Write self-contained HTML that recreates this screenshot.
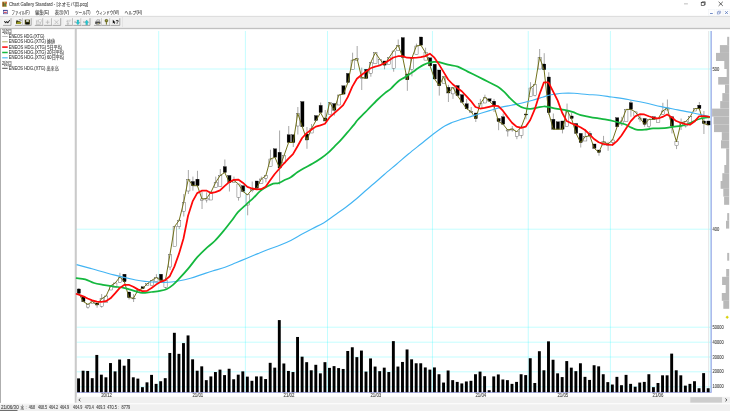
<!DOCTYPE html>
<html lang="ja"><head><meta charset="utf-8"><title>Chart Gallery Standard - [ネオモバ用.pcg]</title>
<style>
html,body{margin:0;padding:0;background:#fff;overflow:hidden}
body{width:730px;height:411px;position:relative;font-family:"Liberation Sans","Noto Sans CJK JP",sans-serif}
svg{position:absolute;left:0;top:0;display:block}
text{font-family:"Liberation Sans","Noto Sans CJK JP",sans-serif}
.g{stroke:#00f6ff;stroke-width:.24;fill:none}
.w{stroke:#222;stroke-width:.4;fill:none}
.cw{fill:#fff;stroke:#333;stroke-width:.36}
.cb{fill:#000;stroke:#000;stroke-width:.3}
.v{fill:#000}
.h{fill:#b9b9b9}
.t{fill:#484848;stroke:#484848;stroke-width:.28}
.tt{fill:#4a4a4a;stroke:#4a4a4a;stroke-width:.2}
.ta{fill:#484848;stroke:#484848;stroke-width:.25}
</style></head><body>
<svg width="730" height="411" viewBox="0 0 730 411">
<rect width="730" height="411" fill="#fff"/>
<rect x="0" y="16.3" width="730" height="11.9" fill="#f0f0f0"/>
<rect x="0" y="15.9" width="730" height=".6" fill="#c8c8c8"/>
<rect x="0" y="27.9" width="730" height=".9" fill="#a8a8a8"/>
<rect x="0" y="28.8" width="730" height=".5" fill="#dcdcdc"/>
<rect x="0" y="28.8" width=".8" height="374.5" fill="#9a9a9a"/>
<rect x="74.3" y="28.8" width=".9" height="374" fill="#ececec"/>
<rect x="75.2" y="28.8" width="1.45" height="374" fill="#bdbdbd"/>
<rect x="0" y="404.2" width="730" height="6.8" fill="#f0f0f0"/>
<rect x="0" y="402.9" width="730" height="1.3" fill="#fbfbfb"/>
<rect x="0" y="409.9" width="17.5" height="1.1" fill="#6e6e6e"/>
<rect x="76.6" y="396.8" width="653.4" height="6.2" fill="#f0f0f0"/>
<rect x="690.3" y="397.2" width="31.7" height="5.4" fill="#cdcdcd"/>
<path d="M80.4 398.5 L78.8 399.9 L80.4 401.3" fill="none" stroke="#3c3c3c" stroke-width=".85"/>
<path d="M725.4 398.5 L727 399.9 L725.4 401.3" fill="none" stroke="#3c3c3c" stroke-width=".85"/>
<path class="g" d="M158.69 31V392"/>
<path class="g" d="M245.38 31V392"/>
<path class="g" d="M327.51 31V392"/>
<path class="g" d="M432.44 31V392"/>
<path class="g" d="M528.26 31V392"/>
<path class="g" d="M610.38 31V392"/>
<path class="g" d="M76.8 69H711"/>
<path class="g" d="M76.8 229.2H711"/>
<path class="g" d="M76.8 327.2H711"/>
<path class="g" d="M76.8 342.2H711"/>
<path class="g" d="M76.8 357H711"/>
<path class="g" d="M76.8 371.8H711"/>
<path class="g" d="M76.8 386.8H711"/>
<rect x="708.2" y="31" width=".7" height="361.5" fill="#e0e0e0"/>
<path class="g" d="M710.2 31V392"/>
<rect x="710.5" y="31" width="1.4" height="361.5" fill="#a6b3ea"/>
<rect x="76.8" y="391.9" width="634.6" height=".7" fill="#7f86e0"/>
<rect class="h" x="727.2" y="36.8" width="2" height="8.3"/>
<rect class="h" x="719.9" y="45.1" width="9.3" height="7.8"/>
<rect class="h" x="716" y="52.9" width="13.2" height="8.1"/>
<rect class="h" x="724.3" y="61" width="4.9" height="8"/>
<rect class="h" x="726.7" y="69" width="2.5" height="8"/>
<rect class="h" x="718.2" y="77" width="11" height="7.6"/>
<rect class="h" x="725" y="84.6" width="4.2" height="8.5"/>
<rect class="h" x="722.3" y="93.1" width="6.9" height="8"/>
<rect class="h" x="720.2" y="101.1" width="9" height="7.5"/>
<rect class="h" x="712.1" y="108.6" width="17.1" height="8"/>
<rect class="h" x="713.6" y="116.6" width="15.6" height="7.7"/>
<rect class="h" x="714" y="124.3" width="15.2" height="7.8"/>
<rect class="h" x="721.8" y="132.1" width="7.4" height="8.2"/>
<rect class="h" x="721" y="140.3" width="8.2" height="8.1"/>
<rect class="h" x="726.2" y="148.4" width="3" height="16.6"/>
<rect class="h" x="724.3" y="165" width="4.9" height="8.2"/>
<rect class="h" x="722.3" y="173.2" width="6.9" height="7.8"/>
<rect class="h" x="720.6" y="181" width="8.6" height="7.8"/>
<rect class="h" x="723.3" y="188.8" width="5.9" height="7.8"/>
<rect class="h" x="724.1" y="196.6" width="5.1" height="8.2"/>
<rect class="h" x="727.2" y="213.1" width="2" height="7.7"/>
<rect class="h" x="726" y="220.8" width="3.2" height="7.8"/>
<rect class="h" x="727.2" y="252.9" width="2" height="7.8"/>
<rect class="h" x="726.2" y="269" width="3" height="7.8"/>
<rect class="h" x="722.1" y="276.8" width="7.1" height="8.2"/>
<rect class="h" x="725.7" y="285" width="3.5" height="8"/>
<rect class="h" x="721.8" y="293" width="7.4" height="7.8"/>
<rect class="h" x="723.3" y="300.8" width="5.9" height="8"/>
<path d="M727.2 315.7 L728.7 317.2 L727.2 318.7 L725.7 317.2 Z" fill="#dcd400" stroke="#b8b000" stroke-width=".2"/>
<rect class="v" x="77.1" y="378.39" width="2.9" height="13.81"/>
<rect class="v" x="81.66" y="370.72" width="2.9" height="21.48"/>
<rect class="v" x="86.22" y="370.94" width="2.9" height="21.26"/>
<rect class="v" x="90.79" y="378.17" width="2.9" height="14.03"/>
<rect class="v" x="95.35" y="354.94" width="2.9" height="37.26"/>
<rect class="v" x="99.91" y="374.67" width="2.9" height="17.53"/>
<rect class="v" x="104.47" y="377.3" width="2.9" height="14.9"/>
<rect class="v" x="109.04" y="363.05" width="2.9" height="29.15"/>
<rect class="v" x="113.6" y="371.38" width="2.9" height="20.82"/>
<rect class="v" x="118.16" y="359.54" width="2.9" height="32.66"/>
<rect class="v" x="122.72" y="365.68" width="2.9" height="26.52"/>
<rect class="v" x="127.29" y="359.1" width="2.9" height="33.1"/>
<rect class="v" x="131.85" y="377.3" width="2.9" height="14.9"/>
<rect class="v" x="136.41" y="378.61" width="2.9" height="13.59"/>
<rect class="v" x="140.98" y="387.16" width="2.9" height="5.04"/>
<rect class="v" x="145.54" y="382.34" width="2.9" height="9.86"/>
<rect class="v" x="150.1" y="374.88" width="2.9" height="17.32"/>
<rect class="v" x="154.66" y="383.87" width="2.9" height="8.33"/>
<rect class="v" x="159.23" y="381.24" width="2.9" height="10.96"/>
<rect class="v" x="163.79" y="378.17" width="2.9" height="14.03"/>
<rect class="v" x="168.35" y="352.97" width="2.9" height="39.23"/>
<rect class="v" x="172.91" y="332.8" width="2.9" height="59.4"/>
<rect class="v" x="177.48" y="353.84" width="2.9" height="38.36"/>
<rect class="v" x="182.04" y="343.1" width="2.9" height="49.1"/>
<rect class="v" x="186.6" y="335.43" width="2.9" height="56.77"/>
<rect class="v" x="191.16" y="359.32" width="2.9" height="32.88"/>
<rect class="v" x="195.73" y="370.72" width="2.9" height="21.48"/>
<rect class="v" x="200.29" y="366.34" width="2.9" height="25.86"/>
<rect class="v" x="204.85" y="380.15" width="2.9" height="12.05"/>
<rect class="v" x="209.41" y="376.42" width="2.9" height="15.78"/>
<rect class="v" x="213.98" y="372.04" width="2.9" height="20.16"/>
<rect class="v" x="218.54" y="369.62" width="2.9" height="22.58"/>
<rect class="v" x="223.1" y="375.1" width="2.9" height="17.1"/>
<rect class="v" x="227.66" y="368.75" width="2.9" height="23.45"/>
<rect class="v" x="232.23" y="379.27" width="2.9" height="12.93"/>
<rect class="v" x="236.79" y="374.67" width="2.9" height="17.53"/>
<rect class="v" x="241.35" y="371.38" width="2.9" height="20.82"/>
<rect class="v" x="245.91" y="376.64" width="2.9" height="15.56"/>
<rect class="v" x="250.48" y="380.8" width="2.9" height="11.4"/>
<rect class="v" x="255.04" y="376.42" width="2.9" height="15.78"/>
<rect class="v" x="259.6" y="376.42" width="2.9" height="15.78"/>
<rect class="v" x="264.16" y="379.05" width="2.9" height="13.15"/>
<rect class="v" x="268.73" y="362.83" width="2.9" height="29.37"/>
<rect class="v" x="273.29" y="367.65" width="2.9" height="24.55"/>
<rect class="v" x="277.85" y="320.09" width="2.9" height="72.11"/>
<rect class="v" x="282.41" y="363.49" width="2.9" height="28.71"/>
<rect class="v" x="286.98" y="370.94" width="2.9" height="21.26"/>
<rect class="v" x="291.54" y="372.04" width="2.9" height="20.16"/>
<rect class="v" x="296.1" y="336.97" width="2.9" height="55.23"/>
<rect class="v" x="300.66" y="356.69" width="2.9" height="35.51"/>
<rect class="v" x="305.23" y="362.17" width="2.9" height="30.03"/>
<rect class="v" x="309.79" y="370.28" width="2.9" height="21.92"/>
<rect class="v" x="314.35" y="364.8" width="2.9" height="27.4"/>
<rect class="v" x="318.91" y="373.35" width="2.9" height="18.85"/>
<rect class="v" x="323.48" y="362.17" width="2.9" height="30.03"/>
<rect class="v" x="328.04" y="367.87" width="2.9" height="24.33"/>
<rect class="v" x="332.6" y="366.12" width="2.9" height="26.08"/>
<rect class="v" x="337.16" y="368.09" width="2.9" height="24.11"/>
<rect class="v" x="341.73" y="368.97" width="2.9" height="23.23"/>
<rect class="v" x="346.29" y="350.99" width="2.9" height="41.21"/>
<rect class="v" x="350.85" y="347.27" width="2.9" height="44.93"/>
<rect class="v" x="355.41" y="357.13" width="2.9" height="35.07"/>
<rect class="v" x="359.98" y="350.56" width="2.9" height="41.64"/>
<rect class="v" x="364.54" y="371.6" width="2.9" height="20.6"/>
<rect class="v" x="369.1" y="358.45" width="2.9" height="33.75"/>
<rect class="v" x="373.66" y="366.56" width="2.9" height="25.64"/>
<rect class="v" x="378.23" y="371.16" width="2.9" height="21.04"/>
<rect class="v" x="382.79" y="367.65" width="2.9" height="24.55"/>
<rect class="v" x="387.35" y="372.04" width="2.9" height="20.16"/>
<rect class="v" x="391.91" y="341.13" width="2.9" height="51.07"/>
<rect class="v" x="396.48" y="366.56" width="2.9" height="25.64"/>
<rect class="v" x="401.04" y="361.95" width="2.9" height="30.25"/>
<rect class="v" x="405.6" y="349.46" width="2.9" height="42.74"/>
<rect class="v" x="410.16" y="359.32" width="2.9" height="32.88"/>
<rect class="v" x="414.73" y="363.27" width="2.9" height="28.93"/>
<rect class="v" x="419.29" y="363.27" width="2.9" height="28.93"/>
<rect class="v" x="423.85" y="367.43" width="2.9" height="24.77"/>
<rect class="v" x="428.41" y="369.62" width="2.9" height="22.58"/>
<rect class="v" x="432.98" y="367.43" width="2.9" height="24.77"/>
<rect class="v" x="437.54" y="374.23" width="2.9" height="17.97"/>
<rect class="v" x="442.1" y="382.56" width="2.9" height="9.64"/>
<rect class="v" x="446.66" y="370.5" width="2.9" height="21.7"/>
<rect class="v" x="451.23" y="380.15" width="2.9" height="12.05"/>
<rect class="v" x="455.79" y="381.9" width="2.9" height="10.3"/>
<rect class="v" x="460.35" y="383.43" width="2.9" height="8.77"/>
<rect class="v" x="464.91" y="381.46" width="2.9" height="10.74"/>
<rect class="v" x="469.48" y="380.8" width="2.9" height="11.4"/>
<rect class="v" x="474.04" y="374.23" width="2.9" height="17.97"/>
<rect class="v" x="478.6" y="371.6" width="2.9" height="20.6"/>
<rect class="v" x="483.16" y="376.2" width="2.9" height="16"/>
<rect class="v" x="487.73" y="390.23" width="2.9" height="1.97"/>
<rect class="v" x="492.29" y="376.42" width="2.9" height="15.78"/>
<rect class="v" x="496.85" y="374.45" width="2.9" height="17.75"/>
<rect class="v" x="501.41" y="379.49" width="2.9" height="12.71"/>
<rect class="v" x="505.98" y="380.15" width="2.9" height="12.05"/>
<rect class="v" x="510.54" y="383.87" width="2.9" height="8.33"/>
<rect class="v" x="515.1" y="381.9" width="2.9" height="10.3"/>
<rect class="v" x="519.66" y="374.23" width="2.9" height="17.97"/>
<rect class="v" x="524.22" y="375.1" width="2.9" height="17.1"/>
<rect class="v" x="528.79" y="358.23" width="2.9" height="33.97"/>
<rect class="v" x="533.35" y="382.99" width="2.9" height="9.21"/>
<rect class="v" x="537.91" y="351.21" width="2.9" height="40.99"/>
<rect class="v" x="542.47" y="370.28" width="2.9" height="21.92"/>
<rect class="v" x="547.04" y="341.35" width="2.9" height="50.85"/>
<rect class="v" x="551.6" y="359.76" width="2.9" height="32.44"/>
<rect class="v" x="556.16" y="373.35" width="2.9" height="18.85"/>
<rect class="v" x="560.72" y="377.08" width="2.9" height="15.12"/>
<rect class="v" x="565.29" y="361.08" width="2.9" height="31.12"/>
<rect class="v" x="569.85" y="367.65" width="2.9" height="24.55"/>
<rect class="v" x="574.41" y="371.16" width="2.9" height="21.04"/>
<rect class="v" x="578.97" y="363.27" width="2.9" height="28.93"/>
<rect class="v" x="583.54" y="376.86" width="2.9" height="15.34"/>
<rect class="v" x="588.1" y="379.93" width="2.9" height="12.27"/>
<rect class="v" x="592.66" y="365.24" width="2.9" height="26.96"/>
<rect class="v" x="597.22" y="366.34" width="2.9" height="25.86"/>
<rect class="v" x="601.79" y="374.23" width="2.9" height="17.97"/>
<rect class="v" x="606.35" y="382.12" width="2.9" height="10.08"/>
<rect class="v" x="610.91" y="384.53" width="2.9" height="7.67"/>
<rect class="v" x="615.47" y="376.86" width="2.9" height="15.34"/>
<rect class="v" x="620.04" y="385.19" width="2.9" height="7.01"/>
<rect class="v" x="624.6" y="374.88" width="2.9" height="17.32"/>
<rect class="v" x="629.16" y="383.87" width="2.9" height="8.33"/>
<rect class="v" x="633.72" y="386.72" width="2.9" height="5.48"/>
<rect class="v" x="638.29" y="382.56" width="2.9" height="9.64"/>
<rect class="v" x="642.85" y="381.9" width="2.9" height="10.3"/>
<rect class="v" x="647.41" y="374.23" width="2.9" height="17.97"/>
<rect class="v" x="651.97" y="387.16" width="2.9" height="5.04"/>
<rect class="v" x="656.54" y="382.99" width="2.9" height="9.21"/>
<rect class="v" x="661.1" y="375.32" width="2.9" height="16.88"/>
<rect class="v" x="665.66" y="375.32" width="2.9" height="16.88"/>
<rect class="v" x="670.22" y="353.62" width="2.9" height="38.58"/>
<rect class="v" x="674.79" y="370.28" width="2.9" height="21.92"/>
<rect class="v" x="679.35" y="375.32" width="2.9" height="16.88"/>
<rect class="v" x="683.91" y="385.62" width="2.9" height="6.58"/>
<rect class="v" x="688.47" y="383.87" width="2.9" height="8.33"/>
<rect class="v" x="693.04" y="381.24" width="2.9" height="10.96"/>
<rect class="v" x="697.6" y="388.25" width="2.9" height="3.95"/>
<rect class="v" x="702.16" y="373.13" width="2.9" height="19.07"/>
<rect class="v" x="706.72" y="388.25" width="2.9" height="3.95"/>
<path class="w" d="M78.85 288V293.4"/>
<rect class="cb" x="77.25" y="289" width="3.2" height="4.4"/>
<rect class="cb" x="81.81" y="296.1" width="3.2" height="5.5"/>
<path class="w" d="M87.97 304.3V308.7"/>
<rect class="cw" x="86.38" y="304.3" width="3.2" height="2.8"/>
<rect class="cw" x="90.94" y="301.6" width="3.2" height="2"/>
<path class="w" d="M97.1 303V307.7"/>
<rect class="cb" x="95.5" y="303" width="3.2" height="2"/>
<path class="w" d="M101.66 294V307.7"/>
<rect class="cw" x="100.06" y="298.8" width="3.2" height="7.6"/>
<rect class="cw" x="104.62" y="296" width="3.2" height="6.3"/>
<rect class="cw" x="109.19" y="285.8" width="3.2" height="4.2"/>
<rect class="cw" x="113.75" y="283" width="3.2" height="4.2"/>
<path class="w" d="M119.91 272.8V282.4"/>
<rect class="cw" x="118.31" y="277" width="3.2" height="5.4"/>
<rect class="cb" x="122.88" y="274.2" width="3.2" height="7.5"/>
<path class="w" d="M129.04 292V299.5"/>
<rect class="cb" x="127.44" y="292" width="3.2" height="5.5"/>
<path class="w" d="M133.6 294V302"/>
<rect class="cw" x="132" y="298.2" width="3.2" height="0.7"/>
<rect class="cw" x="136.56" y="290" width="3.2" height="2.7"/>
<rect class="cb" x="141.13" y="286.8" width="3.2" height="1.8"/>
<rect class="cw" x="145.69" y="283.8" width="3.2" height="2"/>
<rect class="cw" x="150.25" y="280.3" width="3.2" height="5.5"/>
<path class="w" d="M156.41 274.2V281.7"/>
<rect class="cw" x="154.81" y="277.6" width="3.2" height="4.1"/>
<rect class="cb" x="159.38" y="274.2" width="3.2" height="6.1"/>
<path class="w" d="M165.54 278.3V288.6"/>
<rect class="cw" x="163.94" y="280.3" width="3.2" height="6.9"/>
<path class="w" d="M170.1 254.3V270"/>
<rect class="cw" x="168.5" y="254.3" width="3.2" height="12.7"/>
<rect class="cw" x="173.06" y="226.5" width="3.2" height="20"/>
<path class="w" d="M179.23 219V229"/>
<rect class="cw" x="177.63" y="220.5" width="3.2" height="6"/>
<path class="w" d="M183.79 194V216.5"/>
<rect class="cw" x="182.19" y="202.2" width="3.2" height="9.3"/>
<path class="w" d="M188.35 170V194"/>
<rect class="cw" x="186.75" y="179.2" width="3.2" height="11.8"/>
<path class="w" d="M192.91 176.6V190.7"/>
<rect class="cb" x="191.31" y="181.5" width="3.2" height="4.2"/>
<path class="w" d="M197.48 170.8V185.7"/>
<rect class="cb" x="195.88" y="179.2" width="3.2" height="6.5"/>
<path class="w" d="M202.04 191.4V209"/>
<rect class="cw" x="200.44" y="199" width="3.2" height="1.5"/>
<path class="w" d="M206.6 192.3V202.5"/>
<rect class="cw" x="205" y="198.5" width="3.2" height="1.5"/>
<rect class="cw" x="209.56" y="192" width="3.2" height="8"/>
<path class="w" d="M215.73 176.6V187.4"/>
<rect class="cw" x="214.13" y="182.5" width="3.2" height="4.9"/>
<path class="w" d="M220.29 169V186.5"/>
<rect class="cw" x="218.69" y="175.5" width="3.2" height="11"/>
<path class="w" d="M224.85 159.5V172.5"/>
<rect class="cb" x="223.25" y="166.7" width="3.2" height="5.8"/>
<path class="w" d="M229.41 175.5V191.5"/>
<rect class="cb" x="227.81" y="175.5" width="3.2" height="7"/>
<path class="w" d="M233.98 176.6V182.5"/>
<rect class="cw" x="232.38" y="180.5" width="3.2" height="2"/>
<path class="w" d="M238.54 184V200.6"/>
<rect class="cw" x="236.94" y="184" width="3.2" height="13.5"/>
<rect class="cb" x="241.5" y="185.7" width="3.2" height="5.8"/>
<path class="w" d="M247.66 194.8V215.3"/>
<rect class="cw" x="246.06" y="194.8" width="3.2" height="10.2"/>
<path class="w" d="M252.23 181.5V192.3"/>
<rect class="cw" x="250.63" y="189.5" width="3.2" height="1.2"/>
<rect class="cb" x="255.19" y="181" width="3.2" height="7.2"/>
<path class="w" d="M261.35 176.6V183.2"/>
<rect class="cw" x="259.75" y="179" width="3.2" height="4.2"/>
<path class="w" d="M265.91 175.8V182.4"/>
<rect class="cw" x="264.31" y="175.8" width="3.2" height="2.4"/>
<path class="w" d="M270.48 149.7V166.3"/>
<rect class="cw" x="268.88" y="159" width="3.2" height="7.3"/>
<rect class="cb" x="273.44" y="148.8" width="3.2" height="8.5"/>
<path class="w" d="M279.6 130.5V184.5"/>
<rect class="cb" x="278" y="152.3" width="3.2" height="15.7"/>
<rect class="cw" x="282.56" y="155.5" width="3.2" height="7.5"/>
<path class="w" d="M288.73 126V142.5"/>
<rect class="cb" x="287.12" y="134.8" width="3.2" height="7.7"/>
<path class="w" d="M293.29 134.8V147"/>
<rect class="cb" x="291.69" y="134.8" width="3.2" height="7.7"/>
<path class="w" d="M297.85 107V134.5"/>
<rect class="cw" x="296.25" y="113.5" width="3.2" height="12.5"/>
<rect class="cb" x="300.81" y="101.6" width="3.2" height="25.1"/>
<path class="w" d="M306.98 127V148.8"/>
<rect class="cb" x="305.38" y="134" width="3.2" height="6"/>
<path class="w" d="M311.54 124V133"/>
<rect class="cw" x="309.94" y="128.8" width="3.2" height="4.2"/>
<rect class="cb" x="314.5" y="115.6" width="3.2" height="4.9"/>
<path class="w" d="M320.66 102.5V112.6"/>
<rect class="cb" x="319.06" y="105.4" width="3.2" height="7.2"/>
<path class="w" d="M325.23 110V121"/>
<rect class="cb" x="323.62" y="118" width="3.2" height="3"/>
<rect class="cw" x="328.19" y="102.4" width="3.2" height="12.1"/>
<path class="w" d="M334.35 103.6V115.6"/>
<rect class="cb" x="332.75" y="103.6" width="3.2" height="6.6"/>
<rect class="cw" x="337.31" y="95" width="3.2" height="10"/>
<rect class="cb" x="341.88" y="85.8" width="3.2" height="8.3"/>
<rect class="cb" x="346.44" y="73.4" width="3.2" height="9.1"/>
<path class="w" d="M352.6 52.7V69.3"/>
<rect class="cw" x="351" y="60.1" width="3.2" height="9.2"/>
<path class="w" d="M357.16 46V60.5"/>
<rect class="cw" x="355.56" y="58.5" width="3.2" height="2"/>
<path class="w" d="M361.73 67.6V90"/>
<rect class="cw" x="360.12" y="77.5" width="3.2" height="0.9"/>
<rect class="cb" x="364.69" y="69.3" width="3.2" height="9.1"/>
<path class="w" d="M370.85 62.6V76.7"/>
<rect class="cw" x="369.25" y="62.6" width="3.2" height="10.8"/>
<rect class="cw" x="373.81" y="52.7" width="3.2" height="10.8"/>
<rect class="cw" x="378.38" y="59.3" width="3.2" height="5"/>
<path class="w" d="M384.54 61V69.3"/>
<rect class="cb" x="382.94" y="61" width="3.2" height="4.1"/>
<rect class="cw" x="387.5" y="57.7" width="3.2" height="6.6"/>
<path class="w" d="M393.66 51V71.7"/>
<rect class="cw" x="392.06" y="51" width="3.2" height="17.4"/>
<path class="w" d="M398.23 39.5V50.2"/>
<rect class="cw" x="396.62" y="45.2" width="3.2" height="5"/>
<rect class="cb" x="401.19" y="37.6" width="3.2" height="19.8"/>
<path class="w" d="M407.35 74V90.8"/>
<rect class="cb" x="405.75" y="74" width="3.2" height="5.8"/>
<path class="w" d="M411.91 58.3V76.4"/>
<rect class="cw" x="410.31" y="58.3" width="3.2" height="11.3"/>
<path class="w" d="M416.48 43.6V54.3"/>
<rect class="cw" x="414.88" y="46" width="3.2" height="8.3"/>
<rect class="cb" x="419.44" y="37" width="3.2" height="8.2"/>
<path class="w" d="M425.6 47.7V60.1"/>
<rect class="cw" x="424" y="52.7" width="3.2" height="7.4"/>
<rect class="cb" x="428.56" y="57.8" width="3.2" height="8.1"/>
<rect class="cb" x="433.12" y="64.2" width="3.2" height="14.8"/>
<path class="w" d="M439.29 70V95.6"/>
<rect class="cb" x="437.69" y="70" width="3.2" height="15.7"/>
<rect class="cw" x="442.25" y="76.6" width="3.2" height="6.6"/>
<path class="w" d="M448.41 84.8V102"/>
<rect class="cb" x="446.81" y="87.3" width="3.2" height="5.7"/>
<path class="w" d="M452.98 87.3V98.9"/>
<rect class="cw" x="451.38" y="87.3" width="3.2" height="6.6"/>
<rect class="cb" x="455.94" y="85.6" width="3.2" height="10"/>
<rect class="cb" x="460.5" y="94.7" width="3.2" height="7.5"/>
<path class="w" d="M466.66 98.9V108.8"/>
<rect class="cb" x="465.06" y="103.8" width="3.2" height="5"/>
<path class="w" d="M471.23 107V113"/>
<rect class="cw" x="469.62" y="111.5" width="3.2" height="0.8"/>
<path class="w" d="M475.79 113V122"/>
<rect class="cb" x="474.19" y="113" width="3.2" height="5.7"/>
<path class="w" d="M480.35 98.9V108.8"/>
<rect class="cw" x="478.75" y="103.8" width="3.2" height="5"/>
<path class="w" d="M484.91 94.7V103"/>
<rect class="cw" x="483.31" y="97.2" width="3.2" height="5.8"/>
<rect class="cb" x="487.88" y="98.8" width="3.2" height="2.4"/>
<path class="w" d="M494.04 98.9V112"/>
<rect class="cb" x="492.44" y="101.2" width="3.2" height="4.6"/>
<path class="w" d="M498.6 118.5V130.2"/>
<rect class="cb" x="497" y="118.5" width="3.2" height="3"/>
<path class="w" d="M503.16 113.5V124.2"/>
<rect class="cb" x="501.56" y="116.8" width="3.2" height="7.4"/>
<path class="w" d="M507.73 129.2V136.5"/>
<rect class="cw" x="506.12" y="130" width="3.2" height="1"/>
<path class="w" d="M512.29 126V131.7"/>
<rect class="cw" x="510.69" y="129" width="3.2" height="1"/>
<path class="w" d="M516.85 131.7V139.2"/>
<rect class="cw" x="515.25" y="131.7" width="3.2" height="4.8"/>
<path class="w" d="M521.41 125V138.4"/>
<rect class="cw" x="519.81" y="127" width="3.2" height="8.5"/>
<path class="w" d="M525.97 114V119.3"/>
<rect class="cb" x="524.37" y="114" width="3.2" height="1"/>
<path class="w" d="M530.54 82.2V96.3"/>
<rect class="cw" x="528.94" y="88" width="3.2" height="8.3"/>
<path class="w" d="M535.1 84.5V96.4"/>
<rect class="cw" x="533.5" y="84.5" width="3.2" height="11"/>
<path class="w" d="M539.66 49V69"/>
<rect class="cw" x="538.06" y="57.4" width="3.2" height="11.6"/>
<path class="w" d="M544.22 53.2V69.8"/>
<rect class="cb" x="542.62" y="64" width="3.2" height="5.8"/>
<path class="w" d="M548.79 72.3V115"/>
<rect class="cb" x="547.19" y="77" width="3.2" height="35.7"/>
<path class="w" d="M553.35 113.5V129.2"/>
<rect class="cb" x="551.75" y="119.3" width="3.2" height="9.9"/>
<rect class="cb" x="556.31" y="121.8" width="3.2" height="7.4"/>
<path class="w" d="M562.47 121V133.4"/>
<rect class="cb" x="560.87" y="121" width="3.2" height="8.2"/>
<path class="w" d="M567.04 103.6V126.8"/>
<rect class="cw" x="565.44" y="110.2" width="3.2" height="16.6"/>
<path class="w" d="M571.6 112.7V118.5"/>
<rect class="cb" x="570" y="116" width="3.2" height="2.5"/>
<rect class="cb" x="574.56" y="123.5" width="3.2" height="9.9"/>
<path class="w" d="M580.72 133.4V147.5"/>
<rect class="cb" x="579.12" y="133.4" width="3.2" height="9.1"/>
<path class="w" d="M585.29 129.2V141"/>
<rect class="cw" x="583.69" y="136.7" width="3.2" height="4.3"/>
<path class="w" d="M589.85 131V135.8"/>
<rect class="cb" x="588.25" y="133.5" width="3.2" height="2.3"/>
<rect class="cb" x="592.81" y="144" width="3.2" height="4.3"/>
<path class="w" d="M598.97 150V155.7"/>
<rect class="cb" x="597.37" y="150" width="3.2" height="2.4"/>
<path class="w" d="M603.54 135.9V145"/>
<rect class="cw" x="601.94" y="141.7" width="3.2" height="3.3"/>
<path class="w" d="M608.1 141.7V150.8"/>
<rect class="cw" x="606.5" y="144" width="3.2" height="1.5"/>
<path class="w" d="M612.66 140V145"/>
<rect class="cw" x="611.06" y="140" width="3.2" height="2.5"/>
<rect class="cb" x="615.62" y="117.7" width="3.2" height="9.1"/>
<path class="w" d="M621.79 116.8V126"/>
<rect class="cw" x="620.19" y="121" width="3.2" height="3"/>
<rect class="cw" x="624.75" y="109.4" width="3.2" height="12.4"/>
<path class="w" d="M630.91 100.3V116.8"/>
<rect class="cb" x="629.31" y="102.8" width="3.2" height="6.6"/>
<rect class="cw" x="633.87" y="111.9" width="3.2" height="4.9"/>
<path class="w" d="M640.04 115.2V121.8"/>
<rect class="cw" x="638.44" y="118" width="3.2" height="1"/>
<path class="w" d="M644.6 118.5V126.8"/>
<rect class="cb" x="643" y="118.5" width="3.2" height="5.8"/>
<path class="w" d="M649.16 119.3V128.4"/>
<rect class="cw" x="647.56" y="119.3" width="3.2" height="7.5"/>
<rect class="cb" x="652.12" y="116.8" width="3.2" height="2.5"/>
<rect class="cw" x="656.69" y="118.5" width="3.2" height="4.1"/>
<path class="w" d="M662.85 102.8V114.4"/>
<rect class="cw" x="661.25" y="111" width="3.2" height="3.4"/>
<path class="w" d="M667.41 99.5V110"/>
<rect class="cw" x="665.81" y="108" width="3.2" height="2"/>
<path class="w" d="M671.97 116.8V133.4"/>
<rect class="cb" x="670.37" y="116.8" width="3.2" height="9.2"/>
<path class="w" d="M676.54 139.2V149.1"/>
<rect class="cw" x="674.94" y="141.7" width="3.2" height="4.1"/>
<path class="w" d="M681.1 118.5V130"/>
<rect class="cw" x="679.5" y="122.6" width="3.2" height="3.4"/>
<path class="w" d="M685.66 121.8V127.6"/>
<rect class="cw" x="684.06" y="121.8" width="3.2" height="4.2"/>
<rect class="cw" x="688.62" y="116.8" width="3.2" height="5.8"/>
<rect class="cw" x="693.19" y="108.6" width="3.2" height="2.4"/>
<path class="w" d="M699.35 102V108.6"/>
<rect class="cb" x="697.75" y="105.2" width="3.2" height="3.4"/>
<path class="w" d="M703.91 111V134"/>
<rect class="cb" x="702.31" y="121" width="3.2" height="2.5"/>
<rect class="cb" x="706.87" y="121" width="3.2" height="4"/>
<polyline points="78.75,293.4 83.31,301.6 87.88,304.3 92.44,301.6 97,305 101.56,298.8 106.12,296 110.69,285.8 115.25,283 119.81,277 124.38,281.7 128.94,297.5 133.5,298.2 138.06,290 142.62,288.6 147.19,283.8 151.75,280.3 156.31,277.6 160.88,280.3 165.44,280.3 170,254.3 174.56,226.5 179.12,220.5 183.69,202.2 188.25,179.2 192.81,185.7 197.38,185.7 201.94,199 206.5,198.5 211.06,192 215.62,182.5 220.19,175.5 224.75,172.5 229.31,182.5 233.88,180.5 238.44,184 243,191.5 247.56,194.8 252.12,189.5 256.69,188.2 261.25,179 265.81,175.8 270.38,159 274.94,157.3 279.5,168 284.06,155.5 288.62,142.5 293.19,142.5 297.75,113.5 302.31,126.7 306.88,140 311.44,128.8 316,120.5 320.56,112.6 325.12,121 329.69,102.4 334.25,110.2 338.81,95 343.38,94.1 347.94,82.5 352.5,60.1 357.06,58.5 361.62,77.5 366.19,78.4 370.75,62.6 375.31,52.7 379.88,59.3 384.44,65.1 389,57.7 393.56,51 398.12,45.2 402.69,57.4 407.25,79.8 411.81,58.3 416.38,46 420.94,45.2 425.5,52.7 430.06,65.9 434.62,79 439.19,85.7 443.75,76.6 448.31,93 452.88,87.3 457.44,95.6 462,102.2 466.56,108.8 471.12,111.5 475.69,118.7 480.25,103.8 484.81,97.2 489.38,101.2 493.94,105.8 498.5,121.5 503.06,124.2 507.62,130 512.19,129 516.75,131.7 521.31,127 525.88,115 530.44,88 535,84.5 539.56,57.4 544.12,69.8 548.69,112.7 553.25,129.2 557.81,129.2 562.38,129.2 566.94,110.2 571.5,118.5 576.06,133.4 580.62,142.5 585.19,136.7 589.75,135.8 594.31,148.3 598.88,152.4 603.44,141.7 608,144 612.56,140 617.12,126.8 621.69,121 626.25,109.4 630.81,109.4 635.38,111.9 639.94,118 644.5,124.3 649.06,119.3 653.62,119.3 658.19,118.5 662.75,111 667.31,108 671.88,126 676.44,141.7 681,122.6 685.56,121.8 690.12,116.8 694.69,108.6 699.25,108.6 703.81,123.5 708.38,125" fill="none" stroke="#6a6a10" stroke-width=".95" stroke-linejoin="round"/>
<path d="M76.6 264.6C79.15 265.3 85.7 267.08 91.9 268.8C98.1 270.52 106.48 273.03 113.8 274.9C121.12 276.77 130.32 278.9 135.8 280C141.28 281.1 143.05 281.13 146.7 281.5C150.35 281.87 154.05 282.08 157.7 282.2C161.35 282.32 164.95 282.43 168.6 282.2C172.25 281.97 175.95 281.47 179.6 280.8C183.25 280.13 186.85 279.23 190.5 278.2C194.15 277.17 197.83 275.8 201.5 274.6C205.17 273.4 208.58 272.23 212.5 271C216.42 269.77 221.08 268.58 225 267.2C228.92 265.82 232.35 264.2 236 262.7C239.65 261.2 243.25 259.72 246.9 258.2C250.55 256.68 254.25 255.1 257.9 253.6C261.55 252.1 265.15 250.6 268.8 249.2C272.45 247.8 276.13 246.67 279.8 245.2C283.47 243.73 287.15 242.22 290.8 240.4C294.45 238.58 298.05 236.3 301.7 234.3C305.35 232.3 309.05 230.3 312.7 228.4C316.35 226.5 319.95 225.1 323.6 222.9C327.25 220.7 330.95 217.77 334.6 215.2C338.25 212.63 341.85 210.23 345.5 207.5C349.15 204.77 353.02 201.72 356.5 198.8C359.98 195.88 363.48 192.55 366.4 190C369.32 187.45 371.02 186.08 374 183.5C376.98 180.92 380.55 177.72 384.3 174.5C388.05 171.28 392.43 167.65 396.5 164.2C400.57 160.75 404.63 157.17 408.7 153.8C412.77 150.43 416.85 147.25 420.9 144C424.95 140.75 428.95 137.33 433 134.3C437.05 131.27 441.93 127.8 445.2 125.8C448.47 123.8 450.13 123.32 452.6 122.3C455.07 121.28 457.48 120.5 460 119.7C462.52 118.9 464.6 118.45 467.7 117.5C470.8 116.55 474.95 115.15 478.6 114C482.25 112.85 485.95 111.7 489.6 110.6C493.25 109.5 496.85 108.3 500.5 107.4C504.15 106.5 508.07 105.88 511.5 105.2C514.93 104.52 517.57 104.12 521.1 103.3C524.63 102.48 529.12 101.32 532.7 100.3C536.28 99.28 539.93 98.03 542.6 97.2C545.27 96.37 546.77 95.78 548.7 95.3C550.63 94.82 551.9 94.63 554.2 94.3C556.5 93.97 559.18 93.47 562.5 93.3C565.82 93.13 569.97 93.1 574.1 93.3C578.23 93.5 583.1 94.18 587.3 94.5C591.5 94.82 595.25 94.78 599.3 95.2C603.35 95.62 606.8 96.28 611.6 97C616.4 97.72 622.58 98.53 628.1 99.5C633.62 100.47 639.18 101.62 644.7 102.8C650.22 103.98 655.68 105.42 661.2 106.6C666.72 107.78 672.28 108.8 677.8 109.9C683.32 111 689.07 112.1 694.3 113.2C699.53 114.3 706.72 115.95 709.2 116.5" fill="none" stroke="#42b4f3" stroke-width="1.15" stroke-linejoin="round"/>
<path d="M76.6 278.2C78.05 278.38 82.38 278.5 85.3 279.3C88.22 280.1 91.17 282.08 94.1 283C97.03 283.92 99.62 284.22 102.9 284.8C106.18 285.38 110.15 285.95 113.8 286.5C117.45 287.05 121.13 287.28 124.8 288.1C128.47 288.92 132.88 290.6 135.8 291.4C138.72 292.2 139.75 292.8 142.3 292.9C144.85 293 148.17 292.33 151.1 292C154.03 291.67 157.35 291.37 159.9 290.9C162.45 290.43 164.22 290.22 166.4 289.2C168.58 288.18 170.8 286.63 173 284.8C175.2 282.97 177.03 280.93 179.6 278.2C182.17 275.47 185.48 271.87 188.4 268.4C191.32 264.93 194.18 260.7 197.1 257.4C200.02 254.1 202.97 251.33 205.9 248.6C208.83 245.87 211.78 243.92 214.7 241C217.62 238.08 220.58 234.48 223.4 231.1C226.22 227.72 229.13 223.9 231.6 220.7C234.07 217.5 235.65 214.72 238.2 211.9C240.75 209.08 244.35 206.15 246.9 203.8C249.45 201.45 251.3 199.9 253.5 197.8C255.7 195.7 257.92 193.03 260.1 191.2C262.28 189.37 264.42 188.07 266.6 186.8C268.78 185.53 271.18 184.22 273.2 183.6C275.22 182.98 276.87 183.65 278.7 183.1C280.53 182.55 282.18 181.28 284.2 180.3C286.22 179.32 288.62 178.53 290.8 177.2C292.98 175.87 295.12 173.8 297.3 172.3C299.48 170.8 301.33 169.65 303.9 168.2C306.47 166.75 309.78 165.3 312.7 163.6C315.62 161.9 318.85 159.78 321.4 158C323.95 156.22 325.8 154.85 328 152.9C330.2 150.95 332.4 148.5 334.6 146.3C336.8 144.1 339.02 142.07 341.2 139.7C343.38 137.33 345.52 134.65 347.7 132.1C349.88 129.55 352.65 126.42 354.3 124.4C355.95 122.38 355.48 122.32 357.6 120C359.72 117.68 363.73 113.83 367 110.5C370.27 107.17 374.27 102.87 377.2 100C380.13 97.13 382.27 95.25 384.6 93.3C386.93 91.35 389 90.23 391.2 88.3C393.4 86.37 395.58 83.52 397.8 81.7C400.02 79.88 402.08 78.95 404.5 77.4C406.92 75.85 410.07 73.92 412.3 72.4C414.53 70.88 416.03 69.55 417.9 68.3C419.77 67.05 421.48 65.88 423.5 64.9C425.52 63.92 428.25 62.92 430 62.4C431.75 61.88 432.47 61.85 434 61.8C435.53 61.75 436.88 61.63 439.2 62.1C441.52 62.57 444.8 63.85 447.9 64.6C451 65.35 454.5 65.43 457.8 66.6C461.1 67.77 464.38 69.95 467.7 71.6C471.02 73.25 474.38 74.85 477.7 76.5C481.02 78.15 484.3 79.83 487.6 81.5C490.9 83.17 494.73 84.78 497.5 86.5C500.27 88.22 501.98 89.73 504.2 91.8C506.42 93.87 508.6 96.75 510.8 98.9C513 101.05 515.2 103.18 517.4 104.7C519.6 106.22 521.8 107.32 524 108C526.2 108.68 528.38 108.87 530.6 108.8C532.82 108.73 535.08 107.98 537.3 107.6C539.52 107.22 541.9 106.57 543.9 106.5C545.9 106.43 547.3 106.85 549.3 107.2C551.3 107.55 553.42 108.15 555.9 108.6C558.38 109.05 561.45 109.35 564.2 109.9C566.95 110.45 569.65 111.02 572.4 111.9C575.15 112.78 577.93 114.38 580.7 115.2C583.47 116.02 586.23 116.3 589 116.8C591.77 117.3 594.63 117.77 597.3 118.2C599.97 118.63 602.07 118.85 605 119.4C607.93 119.95 611.6 120.68 614.9 121.5C618.2 122.32 622.05 123.28 624.8 124.3C627.55 125.32 629.47 126.72 631.4 127.6C633.33 128.48 634.18 129.27 636.4 129.6C638.62 129.93 641.93 129.8 644.7 129.6C647.47 129.4 649.7 128.65 653 128.4C656.3 128.15 661.2 128.37 664.5 128.1C667.8 127.83 670.03 127.17 672.8 126.8C675.57 126.43 678.62 126.32 681.1 125.9C683.58 125.48 685.5 125.12 687.7 124.3C689.9 123.48 692.08 121.97 694.3 121C696.52 120.03 698.52 119.12 701 118.5C703.48 117.88 707.83 117.5 709.2 117.3" fill="none" stroke="#14b83e" stroke-width="1.75" stroke-linejoin="round" stroke-linecap="round"/>
<polyline points="76.6,294 78.55,294.54 83.11,296.31 87.67,298.5 92.24,300.34 96.8,301.53 101.36,301.92 105.92,301.23 110.49,298.31 115.05,293.42 119.61,288.12 124.17,284.99 128.74,284.8 133.3,286.72 137.86,289.38 142.43,291.24 146.99,290.87 151.55,287.99 156.11,284.58 160.68,281.82 165.24,280.13 169.8,276.23 174.36,266.6 178.93,253.92 183.49,238.46 188.05,215.75 192.61,201.42 197.18,193.12 201.74,190.71 206.3,190.57 210.86,193.02 215.43,192.06 219.99,190.41 224.55,186.12 229.11,182.19 233.68,179.86 238.24,179.53 242.8,182.67 247.36,186.87 251.93,188.47 256.49,189.35 261.05,189.19 265.61,186.64 270.18,180.34 274.74,173.97 279.3,168.7 283.86,163.54 288.43,158.71 292.99,154.16 297.55,146.29 302.11,137.98 306.68,133.09 311.24,129.8 315.8,126.62 320.36,125.4 324.93,123.78 329.49,117.42 334.05,113.4 338.61,109.39 343.18,105.07 347.74,97.14 352.3,86.6 356.86,78.75 361.43,74.99 365.99,71.64 370.55,68.23 375.11,66.66 379.68,65.51 384.24,63.28 388.8,60.43 393.36,57.52 397.93,56.24 402.49,56.15 407.05,57.74 411.61,57.88 416.18,57.75 420.74,57.08 425.3,56.14 429.86,53.69 434.43,57.65 438.99,64.37 443.55,71.86 448.11,79.49 452.68,84.27 457.24,87.92 461.8,91.26 466.36,96.04 470.93,101.04 475.49,106.98 480.05,108.52 484.61,107.95 489.18,106.87 493.74,105.7 498.3,106.03 502.86,110.73 507.43,116.88 511.99,122.72 516.55,126.68 521.11,127.96 525.67,126.65 530.24,120.02 534.8,109.14 539.36,94.73 543.92,82.4 548.49,82.4 553.05,91.3 557.61,100.34 562.17,112.76 566.74,121.08 571.3,123.19 575.86,125.16 580.42,127.23 584.99,130 589.55,134.31 594.11,139.02 598.67,142.23 603.24,143.84 607.8,144.68 612.36,145 616.92,141.17 621.49,135.43 626.05,128.5 630.61,121.38 635.17,116.3 639.74,114.23 644.3,114.45 648.86,116.29 653.42,117.77 657.99,118.47 662.55,116.92 667.11,114.46 671.67,117.21 676.24,121.05 680.8,122.78 685.36,124.14 689.92,124.75 694.49,121.58 699.05,116.29 703.61,116 708.17,116.63 709.2,116.8" fill="none" stroke="#ff0808" stroke-width="1.75" stroke-linejoin="round" stroke-linecap="round"/>
<path d="M2.2 36.5H7.7" stroke="#8c8c8c" stroke-width="0.55"/>
<path d="M2.2 41.8H7.7" stroke="#9a9a3a" stroke-width="0.8"/>
<path d="M2.2 47.1H7.7" stroke="#ff1010" stroke-width="1.6"/>
<path d="M2.2 52.5H7.7" stroke="#14b83e" stroke-width="1.5"/>
<path d="M2.2 57.8H7.7" stroke="#5cc0f7" stroke-width="1.3"/>
<path d="M2.2 68.3H7.7" stroke="#222" stroke-width="0.8"/>
<g transform="scale(0.380208)">
<text class="tt" x="23.41" y="16.47" font-size="12.5" textLength="208.57" lengthAdjust="spacingAndGlyphs">Chart Gallery Standard - [ネオモバ用.pcg]</text>
<text class="t" x="30.51" y="37.11" font-size="12.5" textLength="47.34" lengthAdjust="spacingAndGlyphs">ファイル(F)</text>
<text class="t" x="92.84" y="37.11" font-size="12.5" textLength="36.3" lengthAdjust="spacingAndGlyphs">編集(E)</text>
<text class="t" x="144.13" y="37.11" font-size="12.5" textLength="37.87" lengthAdjust="spacingAndGlyphs">表示(V)</text>
<text class="t" x="197" y="37.11" font-size="12.5" textLength="41.03" lengthAdjust="spacingAndGlyphs">ツール(T)</text>
<text class="t" x="252.23" y="37.11" font-size="12.5" textLength="60.49" lengthAdjust="spacingAndGlyphs">ウィンドウ(W)</text>
<text class="t" x="327.19" y="37.11" font-size="12.5" textLength="46.29" lengthAdjust="spacingAndGlyphs">ヘルプ(H)</text>
<text class="t" x="5" y="86.12" font-size="12" textLength="26.04" lengthAdjust="spacingAndGlyphs">1段目</text>
<text class="t" x="23.15" y="100.06" font-size="12" textLength="93.63" lengthAdjust="spacingAndGlyphs">ENEOS HDG.(XTG)</text>
<text class="t" x="23.15" y="114" font-size="12" textLength="121.78" lengthAdjust="spacingAndGlyphs">ENEOS HDG.(XTG) 終値</text>
<text class="t" x="23.15" y="127.94" font-size="12" textLength="139.66" lengthAdjust="spacingAndGlyphs">ENEOS HDG.(XTG) 5日平均</text>
<text class="t" x="23.15" y="142.14" font-size="12" textLength="145.18" lengthAdjust="spacingAndGlyphs">ENEOS HDG.(XTG) 20日平均</text>
<text class="t" x="23.15" y="156.08" font-size="12" textLength="145.18" lengthAdjust="spacingAndGlyphs">ENEOS HDG.(XTG) 60日平均</text>
<text class="t" x="5" y="170.28" font-size="12" textLength="26.04" lengthAdjust="spacingAndGlyphs">2段目</text>
<text class="t" x="23.15" y="183.7" font-size="12" textLength="131.24" lengthAdjust="spacingAndGlyphs">ENEOS HDG.(XTG) 出来高</text>
<text class="ta" x="2.63" y="1075.31" font-size="12" textLength="46.55" lengthAdjust="spacingAndGlyphs">21/06/30</text>
<text class="ta" x="53.92" y="1075.31" font-size="12" textLength="9.47" lengthAdjust="spacingAndGlyphs">水</text>
<text class="ta" x="67.86" y="1075.31" font-size="12" textLength="1.84" lengthAdjust="spacingAndGlyphs">:</text>
<text class="ta" x="75.75" y="1075.31" font-size="12" textLength="16.31" lengthAdjust="spacingAndGlyphs">468</text>
<text class="ta" x="99.68" y="1075.31" font-size="12" textLength="23.93" lengthAdjust="spacingAndGlyphs">468.5</text>
<text class="ta" x="128.61" y="1075.31" font-size="12" textLength="23.93" lengthAdjust="spacingAndGlyphs">464.2</text>
<text class="ta" x="157.55" y="1075.31" font-size="12" textLength="24.46" lengthAdjust="spacingAndGlyphs">464.9</text>
<text class="ta" x="192.26" y="1075.31" font-size="12" textLength="24.2" lengthAdjust="spacingAndGlyphs">464.9</text>
<text class="ta" x="222.77" y="1075.31" font-size="12" textLength="23.93" lengthAdjust="spacingAndGlyphs">470.4</text>
<text class="ta" x="253.02" y="1075.31" font-size="12" textLength="23.93" lengthAdjust="spacingAndGlyphs">469.3</text>
<text class="ta" x="281.95" y="1075.31" font-size="12" textLength="25.25" lengthAdjust="spacingAndGlyphs">470.5</text>
<text class="ta" x="311.93" y="1075.31" font-size="12" textLength="1.84" lengthAdjust="spacingAndGlyphs">:</text>
<text class="ta" x="319.82" y="1075.31" font-size="12" textLength="22.62" lengthAdjust="spacingAndGlyphs">8779</text>
<text class="ta" x="1874.24" y="185.8" font-size="12" textLength="17.88" lengthAdjust="spacingAndGlyphs">500</text>
<text class="ta" x="1874.24" y="607.41" font-size="12" textLength="17.88" lengthAdjust="spacingAndGlyphs">400</text>
<text class="ta" x="1874.24" y="864.9" font-size="12" textLength="28.93" lengthAdjust="spacingAndGlyphs">50000</text>
<text class="ta" x="1874.24" y="904.35" font-size="12" textLength="28.93" lengthAdjust="spacingAndGlyphs">40000</text>
<text class="ta" x="1874.24" y="943.28" font-size="12" textLength="28.93" lengthAdjust="spacingAndGlyphs">30000</text>
<text class="ta" x="1874.24" y="982.21" font-size="12" textLength="28.93" lengthAdjust="spacingAndGlyphs">20000</text>
<text class="ta" x="1874.24" y="1021.66" font-size="12" textLength="28.93" lengthAdjust="spacingAndGlyphs">10000</text>
<text class="ta" x="280.37" y="1043.63" font-size="13.5" textLength="28.41" lengthAdjust="spacingAndGlyphs" text-anchor="middle">20/12</text>
<text class="ta" x="520.24" y="1043.63" font-size="13.5" textLength="28.41" lengthAdjust="spacingAndGlyphs" text-anchor="middle">21/01</text>
<text class="ta" x="760.11" y="1043.63" font-size="13.5" textLength="28.41" lengthAdjust="spacingAndGlyphs" text-anchor="middle">21/02</text>
<text class="ta" x="988.41" y="1043.63" font-size="13.5" textLength="28.41" lengthAdjust="spacingAndGlyphs" text-anchor="middle">21/03</text>
<text class="ta" x="1264.57" y="1043.63" font-size="13.5" textLength="28.41" lengthAdjust="spacingAndGlyphs" text-anchor="middle">21/04</text>
<text class="ta" x="1480.24" y="1043.63" font-size="13.5" textLength="28.41" lengthAdjust="spacingAndGlyphs" text-anchor="middle">21/05</text>
<text class="ta" x="1730.63" y="1043.63" font-size="13.5" textLength="28.41" lengthAdjust="spacingAndGlyphs" text-anchor="middle">21/06</text>
</g>
<g>
<rect x="2.2" y="1.6" width="4.6" height="5.2" fill="#c9a24a"/><rect x="2.6" y="2.2" width="1.3" height="4.2" fill="#7a4a1e"/><rect x="4.4" y="3.2" width="1.3" height="3.2" fill="#2e6e2e"/><rect x="5.6" y="1.8" width="1" height="2" fill="#c0392b"/>
<path d="M684 3.85H687.9" stroke="#a8a8a8" stroke-width=".75"/>
<rect x="701.2" y="2.6" width="3" height="3" fill="none" stroke="#222" stroke-width=".6"/><path d="M702.2 2.6V1.8H705.2V4.8H704.2" fill="none" stroke="#222" stroke-width=".6"/>
<path d="M718.6 1.8L722.8 5.9M722.8 1.8L718.6 5.9" stroke="#222" stroke-width=".7"/>
<rect x="708.5" y="9.7" width="6" height="5.8" fill="#fdfdfe" stroke="#e9edf3" stroke-width=".4"/>
<rect x="716" y="9.7" width="6.2" height="5.8" fill="#fdfdfe" stroke="#e9edf3" stroke-width=".4"/>
<rect x="723.3" y="9.7" width="6" height="5.8" fill="#fdfdfe" stroke="#e9edf3" stroke-width=".4"/>
<path d="M710 13.5H712.8" stroke="#4668b4" stroke-width=".75"/>
<rect x="717.2" y="12" width="2.3" height="2" fill="none" stroke="#5873b8" stroke-width=".5"/><path d="M718.2 12V11.2H720.6V13.2H719.6" fill="none" stroke="#5873b8" stroke-width=".5"/>
<path d="M725.1 11.2L727.9 14M727.9 11.2L725.1 14" stroke="#4668b4" stroke-width=".7"/>
<rect x="3" y="9.9" width="4.7" height="4.2" fill="#3b3f92"/><rect x="3.6" y="10.9" width="3.5" height="2.6" fill="#f6eef2"/><rect x="3.9" y="11.9" width="2.9" height="1" fill="#d0425a"/>
</g>
<rect x="3" y="18.2" width="8" height="7.2" fill="#f0f0f0"/>
<path d="M3 25.4V18.2H11" fill="none" stroke="#fff" stroke-width=".6"/>
<path d="M11 18.2V25.4H3" fill="none" stroke="#8a8a8a" stroke-width=".7"/>
<rect x="14.9" y="18.2" width="7.6" height="7.2" fill="#f0f0f0"/>
<path d="M14.9 25.4V18.2H22.5" fill="none" stroke="#fff" stroke-width=".6"/>
<path d="M22.5 18.2V25.4H14.9" fill="none" stroke="#8a8a8a" stroke-width=".7"/>
<rect x="22.9" y="18.2" width="8.3" height="7.2" fill="#f0f0f0"/>
<path d="M22.9 25.4V18.2H31.2" fill="none" stroke="#fff" stroke-width=".6"/>
<path d="M31.2 18.2V25.4H22.9" fill="none" stroke="#8a8a8a" stroke-width=".7"/>
<rect x="34.8" y="18.2" width="8.1" height="7.2" fill="#f0f0f0"/>
<path d="M34.8 25.4V18.2H42.9" fill="none" stroke="#fff" stroke-width=".6"/>
<path d="M42.9 18.2V25.4H34.8" fill="none" stroke="#8a8a8a" stroke-width=".7"/>
<rect x="43.8" y="18.2" width="8" height="7.2" fill="#f0f0f0"/>
<path d="M43.8 25.4V18.2H51.8" fill="none" stroke="#fff" stroke-width=".6"/>
<path d="M51.8 18.2V25.4H43.8" fill="none" stroke="#8a8a8a" stroke-width=".7"/>
<rect x="52.5" y="18.2" width="8.2" height="7.2" fill="#f0f0f0"/>
<path d="M52.5 25.4V18.2H60.7" fill="none" stroke="#fff" stroke-width=".6"/>
<path d="M60.7 18.2V25.4H52.5" fill="none" stroke="#8a8a8a" stroke-width=".7"/>
<rect x="65" y="18.2" width="7.6" height="7.2" fill="#f0f0f0"/>
<path d="M65 25.4V18.2H72.6" fill="none" stroke="#fff" stroke-width=".6"/>
<path d="M72.6 18.2V25.4H65" fill="none" stroke="#8a8a8a" stroke-width=".7"/>
<rect x="73.2" y="18.2" width="7.9" height="7.2" fill="#f0f0f0"/>
<path d="M73.2 25.4V18.2H81.1" fill="none" stroke="#fff" stroke-width=".6"/>
<path d="M81.1 18.2V25.4H73.2" fill="none" stroke="#8a8a8a" stroke-width=".7"/>
<rect x="81.7" y="18.2" width="8.3" height="7.2" fill="#f0f0f0"/>
<path d="M81.7 25.4V18.2H90" fill="none" stroke="#fff" stroke-width=".6"/>
<path d="M90 18.2V25.4H81.7" fill="none" stroke="#8a8a8a" stroke-width=".7"/>
<rect x="93.9" y="18.2" width="7.6" height="7.2" fill="#f0f0f0"/>
<path d="M93.9 25.4V18.2H101.5" fill="none" stroke="#fff" stroke-width=".6"/>
<path d="M101.5 18.2V25.4H93.9" fill="none" stroke="#8a8a8a" stroke-width=".7"/>
<rect x="101.9" y="18.2" width="8.1" height="7.2" fill="#f0f0f0"/>
<path d="M101.9 25.4V18.2H110" fill="none" stroke="#fff" stroke-width=".6"/>
<path d="M110 18.2V25.4H101.9" fill="none" stroke="#8a8a8a" stroke-width=".7"/>
<rect x="110.6" y="18.2" width="9.2" height="7.2" fill="#f0f0f0"/>
<path d="M110.6 25.4V18.2H119.8" fill="none" stroke="#fff" stroke-width=".6"/>
<path d="M119.8 18.2V25.4H110.6" fill="none" stroke="#8a8a8a" stroke-width=".7"/>
<path d="M123.2 17V27" stroke="#fff" stroke-width=".5"/><path d="M122.7 17V27" stroke="#c4c4c4" stroke-width=".4"/>
<path d="M4.5 21L5.6 23.1L6.8 21.4L7.7 23.1L9.7 20.1" fill="none" stroke="#0a0a0a" stroke-width=".95" stroke-linejoin="round"/>
<path d="M16.1 24V20.6H17.9L18.5 21.2H20.4V24Z" fill="#3a3a10"/><path d="M16.1 24L17.4 21.9H21.6L20.4 24Z" fill="#9a9a22"/><path d="M18.8 19.9Q20.2 19 21.4 20.3L20.6 20.4" fill="none" stroke="#222" stroke-width=".45"/>
<rect x="24.8" y="19.7" width="5.1" height="4.7" fill="#3c3c0c"/><rect x="26.2" y="20.1" width="2.6" height="1.7" fill="#e6e6e6"/><rect x="25.9" y="22.7" width="3.2" height="1.6" fill="#0a0a0a"/>
<rect x="36.6" y="20.9" width="3.9" height="3.5" fill="#e2e2e2" stroke="#b0b0b0" stroke-width=".5"/><rect x="38.8" y="19.8" width="2.6" height="2.2" fill="#f6f6f6" stroke="#b6b6b6" stroke-width=".4"/>
<path d="M45.7 22.2H49.5M47.6 20.3V24.1" stroke="#b4b4b4" stroke-width=".75"/>
<path d="M54.6 20.3L58.4 24.1M58.4 20.3L54.6 24.1" stroke="#b4b4b4" stroke-width=".75"/>
<path d="M67.9 20V24.4M67.1 23.4L67.9 24.5L68.7 23.4" fill="none" stroke="#8a8a8a" stroke-width=".45"/><path d="M69.6 20.2H70.6M69.2 21.2H70.2" stroke="#999" stroke-width=".45"/><path d="M66.6 21.4H67.3" stroke="#777" stroke-width=".5"/>
<path d="M77 20.1H78.8V22.5H79.9L77.9 24.8L75.9 22.5H77Z" fill="#21ccd4" stroke="#2a7f8a" stroke-width=".3"/><path d="M75.1 21V23" stroke="#555" stroke-width=".45"/>
<path d="M85.8 24.8H87.6V22.4H88.7L86.7 20.1L84.7 22.4H85.8Z" fill="#21ccd4" stroke="#2a7f8a" stroke-width=".3"/><path d="M83.9 21V23" stroke="#555" stroke-width=".45"/>
<rect x="95.2" y="21.4" width="5.2" height="2.5" rx=".3" fill="#4a4a4a"/><path d="M96.4 21.4L97 19.8H99.6L99.2 21.4Z" fill="#ededed" stroke="#3c3c3c" stroke-width=".35"/><rect x="96.2" y="23.2" width="3.4" height="1.4" fill="#d6d6d6" stroke="#3c3c3c" stroke-width=".3"/><rect x="98" y="23" width=".9" height=".6" fill="#d6d04a"/>
<circle cx="106.4" cy="20.8" r="1.45" fill="#77771a" stroke="#3e3e0c" stroke-width=".4"/><circle cx="106.4" cy="20.6" r=".4" fill="#d8d8a0"/><path d="M106.4 22.2V24.6" stroke="#6a6a14" stroke-width=".95"/>
<path d="M112.8 19.7V23.6L113.8 22.8L114.5 24.1L115 23.8L114.4 22.6L115.5 22.5Z" fill="#0a0a0a"/><text x="115.6" y="24.1" font-size="5.4" font-weight="bold" fill="#0a0a0a">?</text>
</svg>
</body></html>
